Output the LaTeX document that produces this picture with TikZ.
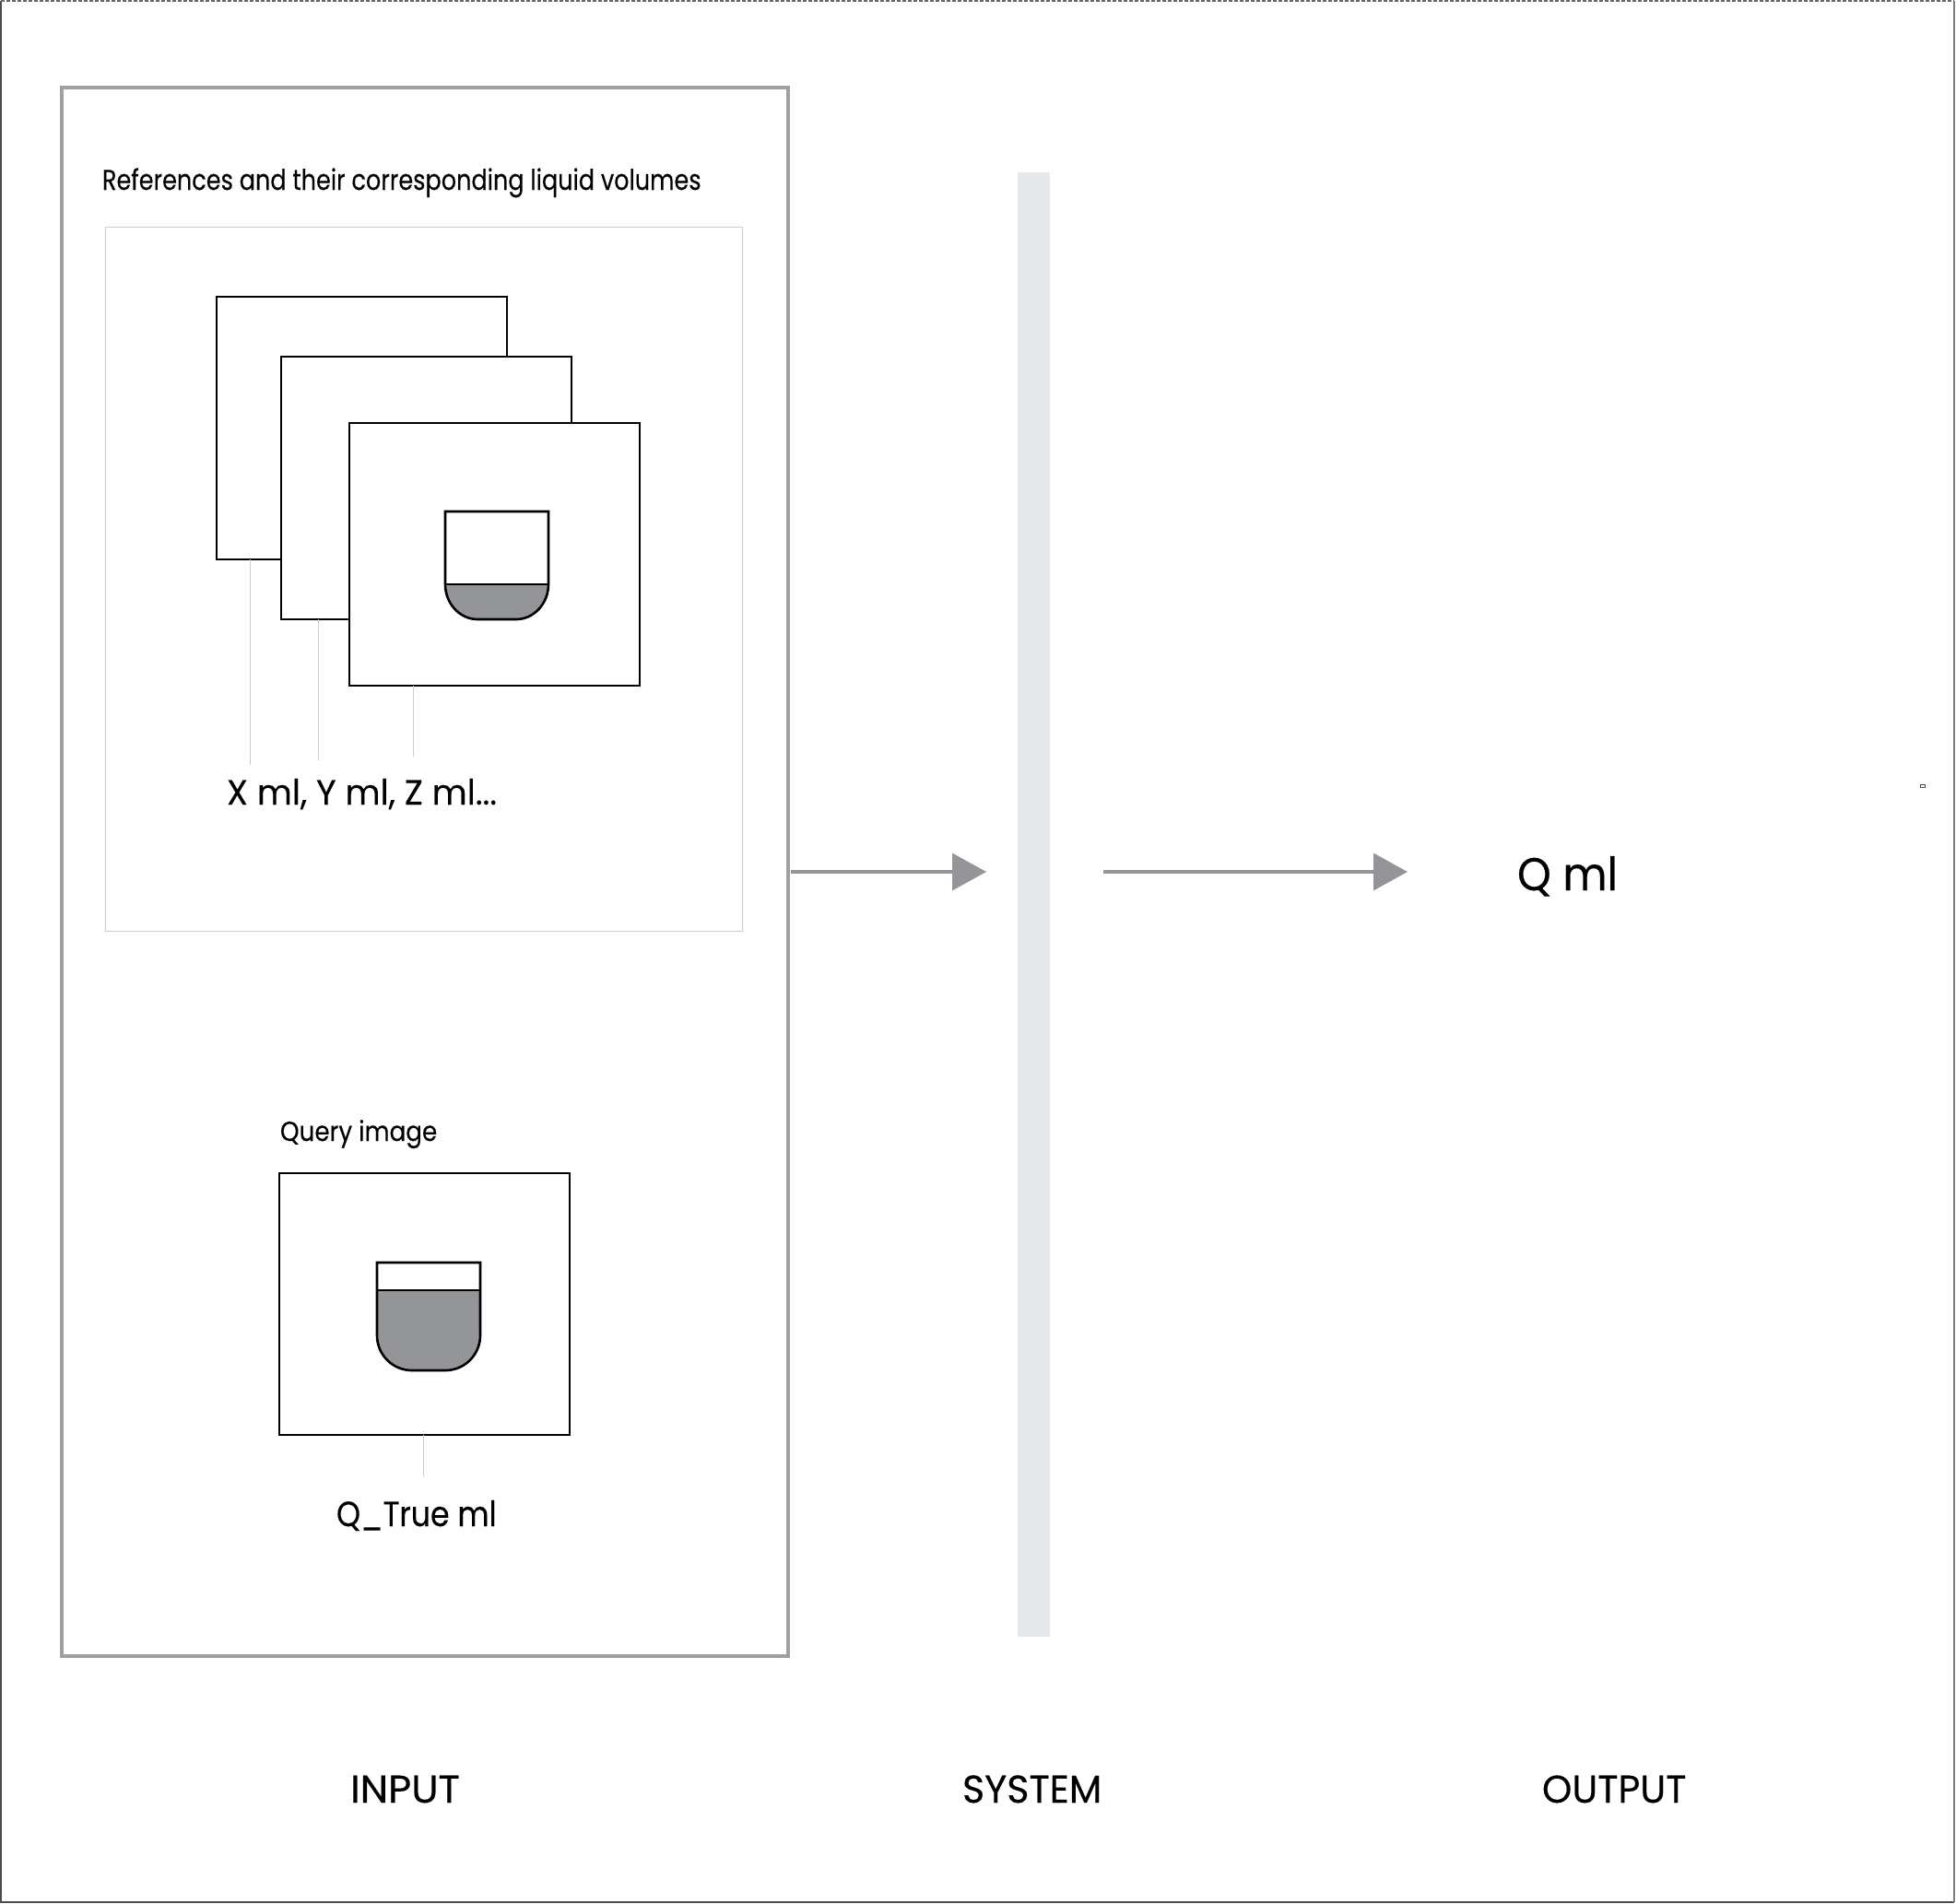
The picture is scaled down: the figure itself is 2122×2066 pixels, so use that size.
\documentclass[tikz,border=0pt]{standalone}
\usepackage{fontspec}
\setmainfont[FakeStretch=0.9,FakeBold=0.25]{Poppins}
\usetikzlibrary{arrows.meta}
\definecolor{framegray}{HTML}{A0A0A2}
\definecolor{midgray}{HTML}{939598}
\definecolor{barcol}{HTML}{E7E8EA}
\definecolor{thingray}{HTML}{CDCDCD}
\newcommand{\hs}[2]{\scalebox{#1}[1]{#2}}
\tikzset{
  px/.style 2 args={minimum width=#1*0.5pt,minimum height=#2*0.5pt},
  base/.style={inner sep=0pt,outer sep=0pt,rectangle,anchor=center},
  outerframe/.style={base,draw=framegray,line width=2pt,fill=white},
  innerframe/.style={base,draw=thingray,line width=0.45pt,fill=white},
  imgbox/.style={base,draw=black,line width=1.45pt,fill=white},
  barbox/.style={base,fill=barcol},
  leader/.style={draw=thingray,line width=0.5pt},
  flow/.style={draw=midgray,line width=1.7pt,-{Triangle[length=18.5pt,width=20pt,fill=midgray]}},
  cupline/.style={draw=black,line width=1.3pt},
  lbl/.style={inner sep=0pt,outer sep=0pt,text=black,anchor=base west},
  border/.style={draw=#1,line width=1pt},
}
\begin{document}
\begin{tikzpicture}[x=0.5pt,y=-0.5pt]
\useasboundingbox (0,0) rectangle (2122,2066);
% page border
\coordinate (pnw) at (1,1); \coordinate (pne) at (2120,1);
\coordinate (psw) at (1,2064); \coordinate (pse) at (2120,2064);
\draw[border=black!70] (pnw) -- (psw) -- (pse);
\draw[border=black!50] (pse) -- (pne);
\draw[border=black!60,dash pattern=on 2pt off 1pt] (pnw) -- (pne);
% panels
\node[outerframe,px={788}{1702}] (frame) at (460.5,946) {};
\node[innerframe,px={691}{764}] (refs) at (459.5,628) {};
\node[barbox,px={35}{1589}] (bar) at (1121.5,981.5) {};
% tiny mark
\node[base,draw=black!70,line width=0.4pt,px={5}{3}] (mark) at (2086,853) {};
% reference stack
\node[imgbox,px={315}{285}] (b1) at (392.5,464.5) {};
\node[imgbox,px={315}{285}] (b2) at (462.5,529.5) {};
\node[imgbox,px={315}{285}] (b3) at (536.5,601.5) {};
% cup 1
\fill[midgray] (483,634) -- (595,634) .. controls (595,655) and (579,672) .. (560,672) -- (518,672) .. controls (499,672) and (483,655) .. (483,634) -- cycle;
\draw[cupline] (483,634) -- (483,555) -- (595,555) -- (595,634) .. controls (595,655) and (579,672) .. (560,672) -- (518,672) .. controls (499,672) and (483,655) .. (483,634) -- cycle;
\draw[cupline] (483,634) -- (595,634);
% leaders
\node[lbl,font=\fontsize{19pt}{19pt}\selectfont] (xyz) at (246,873) {\hs{1.08}{X ml, Y ml, Z ml...}};
\coordinate (la) at (271,607); \coordinate (lae) at (271,830);
\coordinate (lb) at (345,672); \coordinate (lbe) at (345,825);
\coordinate (lc) at (448,744); \coordinate (lce) at (448,821);
\draw[leader] (la) -- (lae);
\draw[leader] (lb) -- (lbe);
\draw[leader] (lc) -- (lce);
\node[lbl,font=\fontsize{15.5pt}{15.5pt}\selectfont] (reft) at (111,206) {\hs{0.915}{References and their corresponding liquid volumes}};
% query
\node[lbl,font=\fontsize{15pt}{15pt}\selectfont] (qt) at (304,1238) {\hs{0.97}{Query image}};
\node[imgbox,px={315}{284}] (q) at (460.5,1415) {};
\fill[midgray] (409,1400) -- (521,1400) -- (521,1449) .. controls (521,1470) and (504,1487) .. (483,1487) -- (447,1487) .. controls (426,1487) and (409,1470) .. (409,1449) -- cycle;
\draw[cupline] (409,1400) -- (409,1370) -- (521,1370) -- (521,1449) .. controls (521,1470) and (504,1487) .. (483,1487) -- (447,1487) .. controls (426,1487) and (409,1470) .. (409,1449) -- cycle;
\draw[cupline] (409,1400) -- (521,1400);
\coordinate (ld) at (459,1557); \coordinate (lde) at (459,1602);
\draw[leader] (ld) -- (lde);
\node[lbl,font=\fontsize{19pt}{19pt}\selectfont] (qtrue) at (365,1656) {\hs{0.97}{Q\_True ml}};
% output
\node[lbl,font=\fontsize{25pt}{25pt}\selectfont] (qml) at (1646,966) {\hs{1.04}{Q ml}};
% arrows
\coordinate (a1s) at (858,946); \coordinate (a1e) at (1070,946);
\coordinate (a2s) at (1197,946); \coordinate (a2e) at (1527,946);
\draw[flow] (a1s) -- (a1e);
\draw[flow] (a2s) -- (a2e);
% captions
\node[lbl,font=\fontsize{21pt}{21pt}\selectfont] (inp) at (380,1956) {\hs{1.147}{INPUT}};
\node[lbl,font=\fontsize{21pt}{21pt}\selectfont] (sys) at (1044,1956) {\hs{1.09}{SYSTEM}};
\node[lbl,font=\fontsize{21pt}{21pt}\selectfont] (out) at (1673,1956) {\hs{1.09}{OUTPUT}};
\end{tikzpicture}
\end{document}
